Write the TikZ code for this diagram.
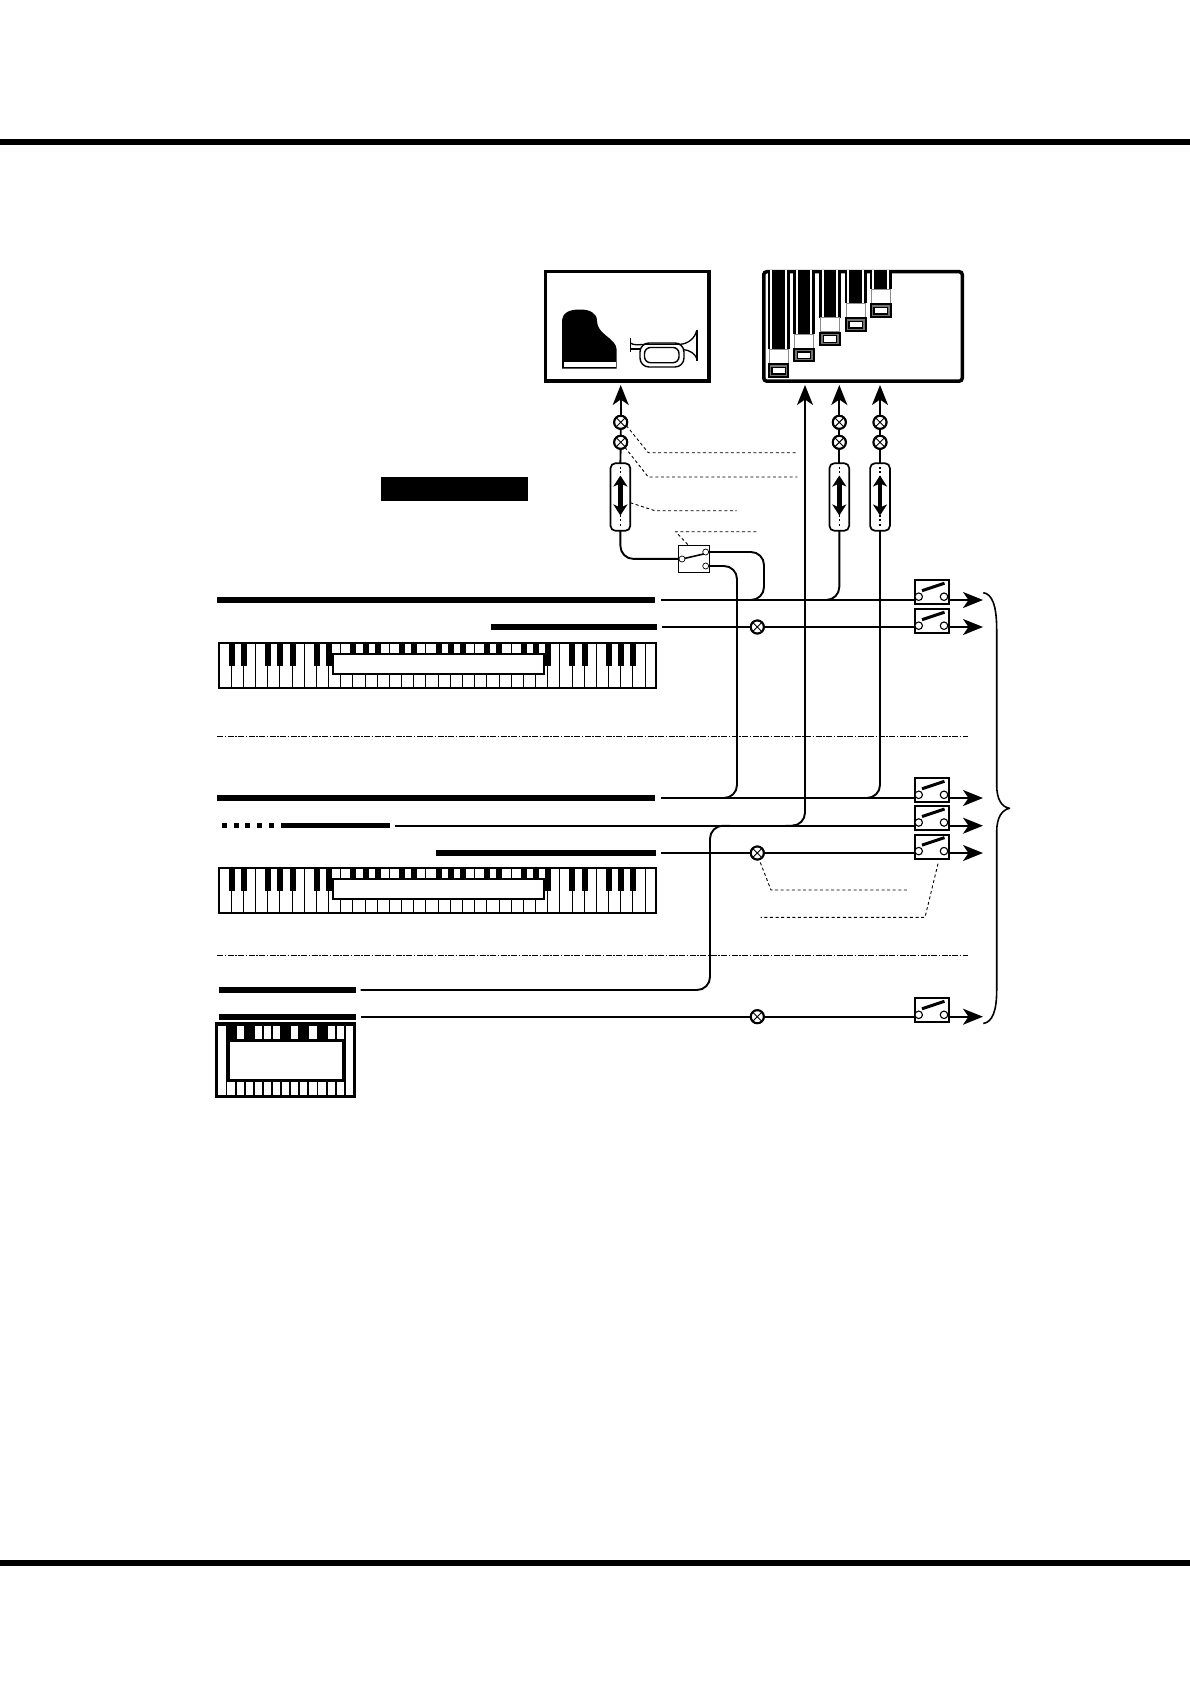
\documentclass[tikz,border=0pt]{standalone}
\usetikzlibrary{arrows.meta,calc}
\tikzset{
  wire/.style={line width=1.9pt,line cap=butt,rounded corners=13pt},
  arr/.style={-{Stealth[length=20pt,width=16pt,inset=5.5pt]}},
  barn/.style={fill=black,draw=none,inner sep=0pt,outer sep=0pt,rectangle},
  xc/.style={circle,draw=black,line width=2pt,fill=white,inner sep=0pt,outer sep=0pt,minimum size=13pt,
    path picture={\draw[line width=.9pt] (path picture bounding box.north west)--(path picture bounding box.south east)
      (path picture bounding box.north east)--(path picture bounding box.south west);}},
  capsule/.style={rectangle,draw=black,fill=white,line width=1.7pt,rounded corners=5pt,inner sep=0pt,outer sep=0pt,minimum width=19.8pt,minimum height=67.6pt},
  swb/.style={rectangle,draw=black,fill=white,line width=2pt,inner sep=0pt,minimum width=33.2pt,minimum height=24.2pt},
  cont/.style={circle,draw=black,fill=white,line width=1.1pt,inner sep=0pt,minimum size=7.5pt},
  leader/.style={line width=.9pt,dash pattern=on 3pt off 2.6pt},
  sep/.style={line width=.8pt,dash pattern=on 6pt off 1.5pt on 1.5pt off 1.5pt},
  panel/.style={rectangle,draw=black,fill=white,line width=3.5pt,inner sep=0pt},
  kbdbox/.style={rectangle,draw=black,line width=2pt,inner sep=0pt,outer sep=0pt},
}
\newcommand{\swt}[3]{%
  \node[swb] (#1) at (#2,#3) {};
  \draw[line width=3pt] ($(#1.center)+(-10,-1.5)$) -- ($(#1.center)+(12.5,-9)$);
  \node[cont] (#1l) at ($(#1.center)+(-13.3,4.5)$) {};
  \node[cont] (#1r) at ($(#1.center)+(12,4.5)$) {};
}
\newcommand{\capsuleat}[3]{%
  \node[capsule] (#1) at (#2,#3) {};
  \draw[line width=1.6pt,dash pattern=on 2pt off 2.4pt] ($(#1.center)+(0,-30)$) -- ($(#1.center)+(0,-21)$)
     ($(#1.center)+(0,18)$) -- ($(#1.center)+(0,30)$);
  \draw[line width=4.4pt,{Stealth[length=11pt,width=14pt,inset=3pt]}-{Stealth[length=11pt,width=14pt,inset=3pt]}]
     ($(#1.center)+(0,-21.5)$) -- ($(#1.center)+(0,18.5)$);
}
\newcommand{\keyboard}[2]{%
  \node[kbdbox,fill=white,minimum width=436.8pt,minimum height=45pt,anchor=north west] (#1) at (219.1,#2+.8) {};
  \foreach \k in {1,...,35} {
    \draw[line width=1pt] ($(#1.north west)+(\k*12.17,0)$) -- ($(#1.south west)+(\k*12.17,0)$);
  }
  \foreach \k in {1,2,4,5,6,8,9,11,12,13,15,16,18,19,20,22,23,25,26,27,29,30,32,33,34} {
    \fill[black] ($(#1.north west)+(\k*12.17-2.6,0)$) rectangle ($(#1.north west)+(\k*12.17+3.4,23.5)$);
  }
  \node[kbdbox,fill=white,minimum width=211pt,minimum height=20pt,anchor=north west] (#1i) at (332.5,#2+12.4) {};
  \draw[line width=2pt] (#1.north west) rectangle (#1.south east);
}
\newcommand{\drawbar}[2]{% centre, head top
  \fill[black] (#1-11,270) rectangle (#1+11,#2);
  \fill[white] (#1-8.4,270) rectangle (#1+8.4,#2);
  \fill[black] (#1-6.3,270) rectangle (#1+6.3,#2);
  \draw[black!45,line width=.7pt,fill=white] (#1-9.6,#2) rectangle (#1+9.6,#2+14);
  \fill[black] (#1-10.8,#2+14) rectangle (#1+10.8,#2+28.3);
  \fill[black!55] (#1-8.8,#2+16) rectangle (#1+8.8,#2+26.2);
  \fill[black] (#1-7.4,#2+17.2) rectangle (#1+7.4,#2+25.2);
  \fill[white] (#1-6,#2+18.6) rectangle (#1+6,#2+23.8);
}
\begin{document}
\begin{tikzpicture}[x=1pt,y=-1pt]
\useasboundingbox (0,0) rectangle (1190,1684);
\fill[white] (0,0) rectangle (1190,1684);
% page rules
\node[barn,minimum width=1190pt,minimum height=6pt] (ruleT) at (595,142) {};
\node[barn,minimum width=1190pt,minimum height=6pt] (ruleB) at (595,1562.5) {};
% panels
\node[panel,minimum width=163.5pt,minimum height=109.5pt] (pan1) at (627.3,326.4) {};
\node[panel,rounded corners=3pt,minimum width=198.5pt,minimum height=109.5pt] (pan2) at (863,326.4) {};
% piano
\fill[black] (562,368.7) -- (562,322) .. controls (562,312) and (570,309.5) .. (580,309.5)
  .. controls (590,309.5) and (597,313) .. (597,321) .. controls (597,335) and (616.7,338) .. (616.7,350) -- (616.7,368.7) -- cycle;
\fill[white] (564,362) rectangle (616,367);
% bugle
\draw[line width=1.4pt,rounded corners=9pt] (640,343) rectangle (684,367);
\draw[line width=1.4pt,rounded corners=6pt] (644.5,347.5) rectangle (679,362.7);
\draw[line width=1.5pt] (630.5,338) -- (630.5,352);
\draw[line width=1.3pt] (630.5,343) .. controls (633,345) and (637,345) .. (645,344.3) -- (680,344.3) .. controls (688,344) and (695,338) .. (696.5,331);
\draw[line width=1.3pt] (630.5,349) -- (640,349);
\draw[line width=1.3pt] (683,349.5) .. controls (690,350) and (695,354) .. (696.5,358);
\draw[line width=1.8pt] (696.7,330) -- (696.7,361);
% drawbars
\drawbar{778.5}{349.3}
\drawbar{804}{334}
\drawbar{830}{317.7}
\drawbar{855.7}{303.3}
\drawbar{880.7}{289.3}
% black label
\node[barn,minimum width=147pt,minimum height=24pt] (label) at (454.5,489) {};
% separators
\coordinate (s1a) at (217,736.5); \coordinate (s1b) at (968,736.5);
\coordinate (s2a) at (217,955); \coordinate (s2b) at (968,955);
\draw[sep] (s1a) -- (s1b);
\draw[sep] (s2a) -- (s2b);
% bars
\node[barn,minimum width=438.3pt,minimum height=6.5pt] (bar1) at (435.85,600) {};
\node[barn,minimum width=165.7pt,minimum height=6pt] (bar2) at (573.85,627) {};
\node[barn,minimum width=438pt,minimum height=6.5pt] (bar3) at (436,798) {};
\foreach \i/\x in {1/224.3,2/236,3/247.7,4/259,5/271} {\node[barn,minimum width=5pt,minimum height=5pt] (dot\i) at (\x,825.7) {};}
\node[barn,minimum width=109pt,minimum height=5.5pt] (bar4) at (335.5,825.7) {};
\node[barn,minimum width=220pt,minimum height=6pt] (bar5) at (546,853) {};
\node[barn,minimum width=136.7pt,minimum height=6pt] (bar6) at (287.35,990) {};
\node[barn,minimum width=136.7pt,minimum height=6pt] (bar7) at (287.35,1016.7) {};
% free ends
\coordinate (end1) at (983,600);
\coordinate (end2) at (983,627);
\coordinate (end3) at (983,798);
\coordinate (end4) at (983,825.7);
\coordinate (end5) at (983,853);
\coordinate (end6) at (983,1016.7);
\coordinate (arr1) at (620.7,385);
\coordinate (arr2) at (805,385);
\coordinate (arr3) at (839.3,385);
\coordinate (arr4) at (880,385);
\coordinate (j1) at (764,600);\coordinate (j1e) at (745,600);
\coordinate (j2) at (737,798);\coordinate (j2e) at (715,798);
\coordinate (j3) at (839.3,600);\coordinate (j3e) at (820,600);
\coordinate (j4) at (880,798);\coordinate (j4e) at (860,798);
\coordinate (j5) at (805,825.7);\coordinate (j5e) at (785,825.7);
\coordinate (j6) at (710,990);\coordinate (j7) at (710,825.7);\coordinate (j7e) at (730,825.7);
% circles
\node[xc] (c1) at (620.7,422.3) {};
\node[xc] (c2) at (620.7,442.3) {};
\node[xc] (c3) at (839.3,422.3) {};
\node[xc] (c4) at (839.3,442.3) {};
\node[xc] (c5) at (880,422.3) {};
\node[xc] (c6) at (880,442.3) {};
\node[xc] (c7) at (757.3,627) {};
\node[xc] (c8) at (757.3,853) {};
\node[xc] (c9) at (757.3,1016.7) {};
% row wires
\draw[wire,arr] ([xshift=6pt]bar1.east) -- (end1);
\draw[wire,arr] ([xshift=5pt]bar2.east) -- (end2);
\draw[wire,arr] ([xshift=6pt]bar3.east) -- (end3);
\draw[wire,arr] ([xshift=5pt]bar4.east) -- (end4);
\draw[wire,arr] ([xshift=5pt]bar5.east) -- (end5);
\draw[wire,arr] ([xshift=5pt]bar7.east) -- (end6);
\draw[wire] ([xshift=5pt]bar6.east) -- (j6) -- (j7) -- (j7e);
% capsules
\capsuleat{cap1}{620.4}{497}
\capsuleat{cap2}{839.3}{497}
\capsuleat{cap3}{880}{497}
% vertical wires
\draw[wire,arr,rounded corners=0pt] (c1) -- (arr1);
\draw[wire,rounded corners=0pt] (c1) -- (c2) (c2) -- (cap1.north);
\draw[wire,arr,rounded corners=0pt] (c3) -- (arr3);
\draw[wire,rounded corners=0pt] (c3) -- (c4) (c4) -- (cap2.north);
\draw[wire,arr,rounded corners=0pt] (c5) -- (arr4);
\draw[wire,rounded corners=0pt] (c5) -- (c6) (c6) -- (cap3.north);
\draw[wire] (cap2.south) -- (j3) -- (j3e);
\draw[wire] (cap3.south) -- (j4) -- (j4e);
\draw[wire,arr,rounded corners=0pt] (j5) ++(0,-14) -- (arr2);
\draw[wire] (arr2 |- 0,800) -- (j5) -- (j5e);
% selector switch
\node[rectangle,draw=black,fill=white,line width=1pt,inner sep=0pt,minimum width=31pt,minimum height=27.7pt] (sel) at (693.8,558.9) {};
\draw[wire] (cap1.south) |- (sel.west);
\draw[line width=1.6pt] (682,559) -- (705.7,553.5);
\node[cont,minimum size=6pt,line width=.7pt] (k1) at (682,559) {};
\node[cont,minimum size=6pt,line width=.7pt] (k2) at (705.7,552) {};
\node[cont,minimum size=6pt,line width=.7pt] (k3) at (705.7,566) {};
\draw[wire] (k2.east) -| (j1) -- (j1e);
\draw[wire] (k3.east) -| (j2) -- (j2e);
% circles on top of their wires
\node[xc] at (c7) {};
\node[xc] at (c8) {};
\node[xc] at (c9) {};
\node[xc] at (c1) {};
\node[xc] at (c2) {};
\node[xc] at (c3) {};
\node[xc] at (c4) {};
\node[xc] at (c5) {};
\node[xc] at (c6) {};
% switches
\swt{sw1}{932}{592.2}
\swt{sw2}{932}{621.2}
\swt{sw3}{932}{790.3}
\swt{sw4}{932}{818}
\swt{sw5}{932}{846.6}
\swt{sw6}{932}{1010.3}
% leaders
\coordinate (l1) at (797.3,452.7);
\coordinate (l2) at (797.3,477);
\coordinate (l3) at (736.7,510.7);
\coordinate (l4) at (756.7,531.7);
\coordinate (l5) at (907.3,890);
\coordinate (l6) at (760.7,917.3);
\draw[leader] (c1.-30) -- (648.3,452.7) -- (l1);
\draw[leader] (c2.-50) -- (648.3,477) -- (l2);
\draw[leader] (cap1.-30) -- (655,510.7) -- (l3);
\draw[leader] (sel.north west) ++(10,0) -- (675.7,531.7) -- (l4);
\draw[leader] (c8.south) ++(3,3) -- (771,890) -- (l5);
\draw[leader] (sw5.south) ++(6,4) -- (925,917.3) -- (l6);
% brace
\draw[line width=1.6pt,line join=round] (983.3,592.7) .. controls (992,594) and (996.7,605) .. (996.7,630) -- (996.7,785)
  .. controls (996.7,800) and (1002,807) .. (1009.5,808.3) .. controls (1002,810) and (996.7,817) .. (996.7,832)
  -- (996.7,990) .. controls (996.7,1012) and (992,1022) .. (983.3,1023.5);
% keyboards
\keyboard{kb1}{641.7}
\keyboard{kb2}{866.7}
% small keyboard
\node[rectangle,draw=black,line width=2.6pt,fill=black,inner sep=0pt,minimum width=138pt,minimum height=72.5pt] (kb3) at (285.3,1060) {};
\fill[white] (217.7,1025.7) rectangle (226,1095.2);
\fill[white] (346,1025.7) rectangle (352.8,1095.2);
\foreach \a/\b in {236.7/244,255/262.3,264/271.3,273/280.3,291/298.3,309/316.7,328/335.3,337/344.3} {\fill[white] (\a,1025.7) rectangle (\b,1039);}
\foreach \a/\b in {226.7/235,236.7/244,245.7/253.3,255/262.3,264/271.3,273/280.3,282/289.3,291/298.3,299.7/307.3,309/317.3,318.3/326,328/335.3,337/344.3} {\fill[white] (\a,1082) rectangle (\b,1095.2);}
\node[rectangle,draw=black,line width=2.2pt,fill=white,inner sep=0pt,minimum width=114.6pt,minimum height=39pt] (kb3i) at (286,1060.3) {};
\end{tikzpicture}
\end{document}
